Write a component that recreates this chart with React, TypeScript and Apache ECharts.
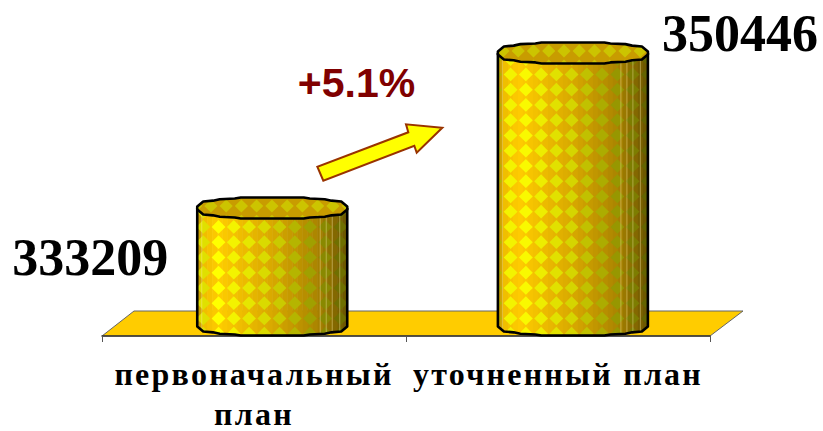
import React, { useEffect, useRef } from "react";
import * as echarts from "echarts";

const categories = ["первоначальный\nплан", "уточненный план"];
const planValues = [333209, 350446];
const changeLabel = "+5.1%";

const SERIF = '"Liberation Serif", "Times New Roman", serif';
const SANS = '"Liberation Sans", Arial, sans-serif';
const CELL = 15.25;
const FACETS = [[0.42, 1], [0.5, 0.9], [0.7, 0.84], [0.79, 0.7], [0.92, 0.62], [1, 0.15]];

const BASE_STOPS: [number, number[]][] = [
  [0, [190, 150, 0]], [0.05, [240, 190, 0]], [0.14, [255, 204, 0]], [0.5, [216, 168, 0]], [0.8, [170, 132, 0]], [1, [105, 84, 0]],
];
const DIAMOND_STOPS: [number, number[]][] = [
  [0, [180, 180, 0]], [0.05, [235, 235, 0]], [0.14, [255, 255, 0]], [0.5, [212, 212, 0]], [0.8, [150, 150, 0]], [1, [100, 100, 0]],
];

function ramp(stops: [number, number[]][], t: number) {
  for (let i = 1; i < stops.length; i++) {
    if (t <= stops[i][0]) {
      const [a, ca] = stops[i - 1];
      const [b, cb] = stops[i];
      const f = (t - a) / (b - a);
      const c = ca.map((v, k) => Math.round(v + (cb[k] - v) * f));
      return `rgb(${c[0]},${c[1]},${c[2]})`;
    }
  }
  return "rgb(105,84,0)";
}

function frontArc(cx: number, cy: number, rx: number, ry: number) {
  const pts: number[][] = [];
  [...FACETS].reverse().forEach(([f, h]) => pts.push([cx - f * rx, cy + h * ry]));
  FACETS.forEach(([f, h]) => pts.push([cx + f * rx, cy + h * ry]));
  return pts;
}

function ringPoints(cx: number, cy: number, rx: number, ry: number) {
  const pts = frontArc(cx, cy, rx, ry);
  [...FACETS].reverse().forEach(([f, h]) => pts.push([cx + f * rx, cy - h * ry]));
  FACETS.forEach(([f, h]) => pts.push([cx - f * rx, cy - h * ry]));
  return pts;
}

function diamond(x: number, y: number, r: number, fill: string) {
  return {
    type: "polygon",
    shape: { points: [[x, y - r], [x + r, y], [x, y + r], [x - r, y]] },
    style: { fill },
  };
}

function renderCylinder(params: any, api: any) {
  const idx = params.dataIndex;
  const value = api.value(1);
  const top = api.coord([idx, value]);
  const base = api.coord([idx, 320200]);
  const catW = api.size([1, 0])[0];
  const cx = top[0] + catW * (idx === 0 ? 0.06 : 0.049);
  const rx = catW * 0.2467;
  const ry = 10.5;
  const left = cx - rx;
  const right = cx + rx;
  const topY = top[1];
  const baseY = base[1];

  const sidePts = [[left, topY], ...frontArc(cx, baseY, rx, ry), [right, topY]];
  const children: any[] = [];

  // vertical facets
  const strips: any[] = [];
  const stripCount = 30;
  const stripW = (2 * rx) / stripCount;
  for (let i = 0; i < stripCount; i++) {
    strips.push({
      type: "rect",
      shape: { x: left + i * stripW, y: topY - 12, width: stripW + 0.6, height: baseY - topY + 26 },
      style: { fill: ramp(BASE_STOPS, (i + 0.5) / stripCount) },
    });
  }
  // diamond lattice
  const phaseX = idx === 0 ? 21.3 : 12.7;
  for (let x = left + phaseX - 2 * CELL; x < right + CELL; x += CELL) {
    const t = Math.min(1, Math.max(0, (x - left) / (2 * rx)));
    for (let k = -1; baseY - (k + 0.43) * CELL > topY - 14; k++) {
      strips.push(diamond(x, baseY - (k + 0.43) * CELL, 6.9, ramp(DIAMOND_STOPS, t)));
    }
  }
  // pale facet seams
  [0.03, 0.82, 0.86, 0.9, 0.95].forEach((t) => {
    const x = left + t * 2 * rx;
    strips.push({
      type: "line",
      shape: { x1: x, y1: topY, x2: x, y2: baseY + 8 },
      style: { stroke: "rgba(255,240,170,0.4)", lineWidth: 1 },
    });
  });
  children.push({
    type: "group",
    children: strips,
    clipPath: { type: "polygon", shape: { points: sidePts } },
  });
  children.push({
    type: "polyline",
    shape: { points: sidePts },
    style: { fill: "none", stroke: "#000", lineWidth: 2.6, lineJoin: "round" },
  });

  // top opening
  const ring = ringPoints(cx, topY, rx, ry);
  const inner: any[] = [
    { type: "rect", shape: { x: left, y: topY - ry - 1, width: 2 * rx, height: 2 * ry + 2 }, style: { fill: "#C89C00" } },
  ];
  for (let x = left + phaseX - 2 * CELL; x < right + CELL; x += CELL) {
    for (let row = -1; row <= 1; row++) {
      inner.push(diamond(x + CELL / 2, topY + row * CELL - 2, 6.6, "#CCC400"));
    }
  }
  children.push({
    type: "group",
    children: inner,
    clipPath: { type: "polygon", shape: { points: ring } },
  });
  children.push({
    type: "polygon",
    shape: { points: ring },
    style: { fill: "none", stroke: "#000", lineWidth: 2.6, lineJoin: "round" },
  });

  // value label
  children.push({
    type: "text",
    style: idx === 0
      ? { text: String(value), x: left - 29, y: topY + 50, textAlign: "right", textVerticalAlign: "middle", font: `bold 52px ${SERIF}`, fill: "#000" }
      : { text: String(value), x: right + 14, y: topY - 19, textAlign: "left", textVerticalAlign: "middle", font: `bold 52px ${SERIF}`, fill: "#000" },
  });
  return { type: "group", children };
}

export default function App() {
  const ref = useRef<HTMLDivElement>(null);
  useEffect(() => {
    const chart = echarts.init(ref.current!, undefined, { renderer: "svg" });
    chart.setOption({
      animation: false,
      backgroundColor: "#fff",
      grid: { left: 102, right: 113, top: 21, bottom: 106, outerBoundsMode: "none" },
      xAxis: {
        type: "category",
        data: categories,
        offset: 11,
        boundaryGap: true,
        axisLine: { show: true, lineStyle: { color: "#333", width: 1.5 } },
        axisTick: { show: true, length: 6, alignWithLabel: false, lineStyle: { color: "#555", width: 1 } },
        axisLabel: {
          interval: 0,
          margin: 18,
          color: "#000",
          fontFamily: SERIF,
          fontWeight: "bold",
          fontSize: 32,
          lineHeight: 40,
        },
      },
      yAxis: { type: "value", min: 320200, max: 354000, show: false },
      graphic: [
        {
          type: "polygon",
          z: -1,
          silent: true,
          shape: { points: [[102, 336], [134, 311], [743, 311], [710, 336]] },
          style: { fill: "#FFCC00", stroke: "#666", lineWidth: 1 },
        },
        {
          type: "polygon",
          z: 10,
          silent: true,
          shape: {
            points: [[317.3, 166.7], [323.3, 180.7], [414.3, 145.7], [416.7, 152.7], [442.3, 127.7], [406, 124.3], [408.3, 132.3]],
          },
          style: { fill: "#FFFF00", stroke: "#993300", lineWidth: 2 },
        },
        {
          type: "text",
          z: 10,
          silent: true,
          style: { text: changeLabel, x: 356.5, y: 83, textAlign: "center", textVerticalAlign: "middle", font: `bold 41px ${SANS}`, fill: "#800000" },
        },
      ],
      series: [
        {
          type: "custom",
          coordinateSystem: "cartesian2d",
          clip: false,
          silent: true,
          renderItem: renderCylinder,
          encode: { x: 0, y: 1 },
          data: planValues.map((v, i) => [i, v]),
        },
      ],
    });
    return () => chart.dispose();
  }, []);
  return (
    <>
      <style>{`text[style*="32px"]{letter-spacing:2.25px}`}</style>
      <div ref={ref} style={{ position: "fixed", left: 0, top: 0, width: 823, height: 431 }} />
    </>
  );
}
